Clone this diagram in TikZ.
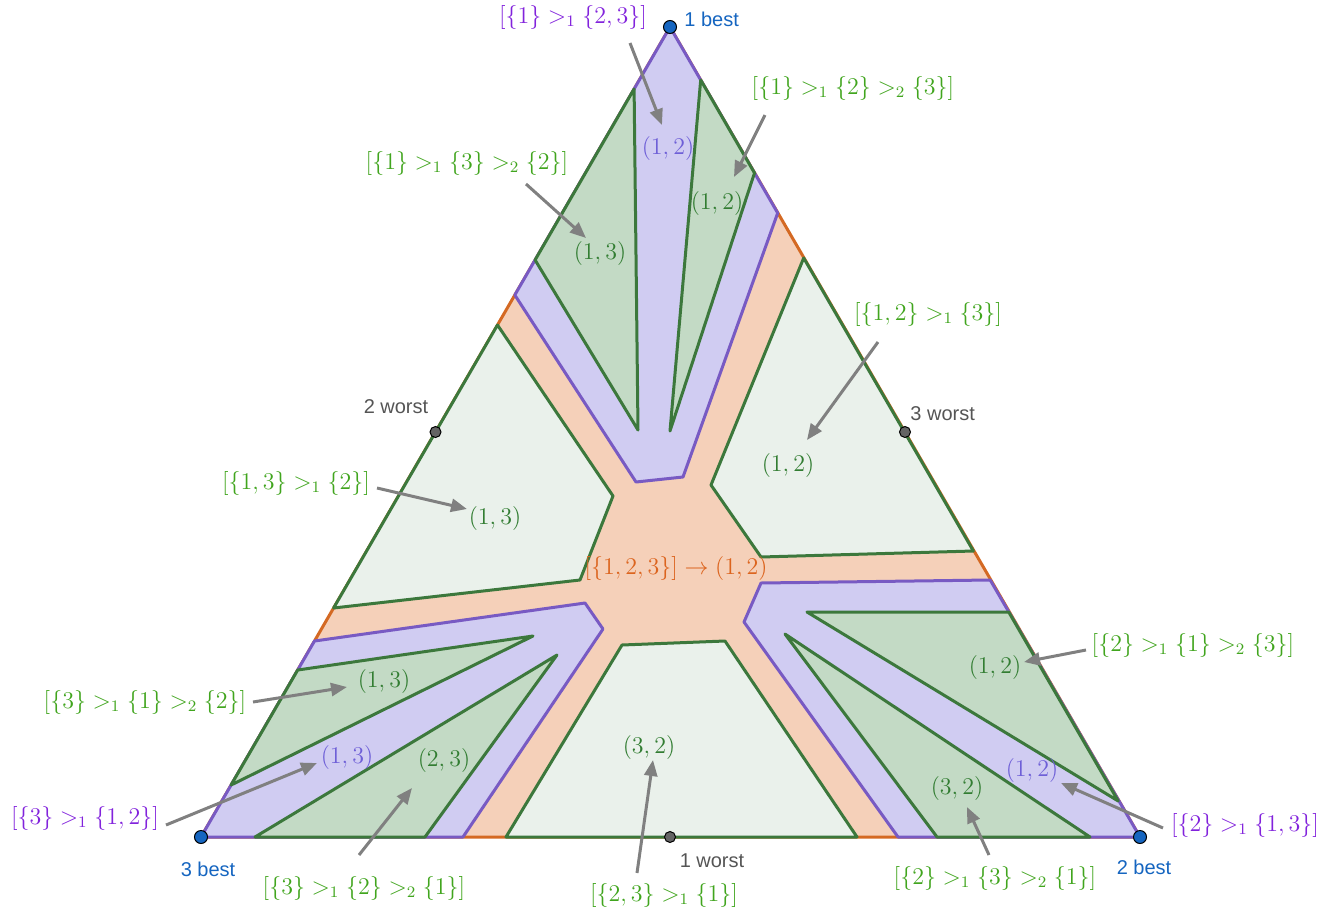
\documentclass[tikz,border=0pt]{standalone}
\usepackage{fontspec}
\newfontfamily\lsans{Liberation Sans}
\usetikzlibrary{arrows.meta,calc}
\definecolor{ofill}{RGB}{245,208,185}
\definecolor{oline}{RGB}{212,105,35}
\definecolor{pfill}{RGB}{208,204,242}
\definecolor{pline}{RGB}{120,90,195}
\definecolor{dgfill}{RGB}{195,218,197}
\definecolor{lgfill}{RGB}{234,241,235}
\definecolor{gline}{RGB}{60,120,60}
\definecolor{glab}{RGB}{65,165,30}
\definecolor{grlab}{RGB}{50,125,50}
\definecolor{plab}{RGB}{130,35,220}
\definecolor{prlab}{RGB}{110,95,215}
\definecolor{olab}{RGB}{220,100,30}
\definecolor{bestblue}{RGB}{21,101,192}
\definecolor{worstgray}{RGB}{85,85,85}
\definecolor{dotgray}{RGB}{100,100,100}
\definecolor{arrgray}{RGB}{128,128,128}
\begin{document}
\begin{tikzpicture}[x=0.5pt,y=-0.5pt,
  region/.style={line width=1.5pt, line join=round},
  oregion/.style={region, fill=ofill, draw=oline},
  pregion/.style={region, fill=pfill, draw=pline},
  lgregion/.style={region, fill=lgfill, draw=gline},
  dgregion/.style={region, fill=dgfill, draw=gline},
  lab/.style={font=\fontsize{12}{14}\selectfont, inner sep=0pt},
  sanslab/.style={font=\lsans\fontsize{10}{12}\selectfont, inner sep=0pt},
  arr/.style={draw=arrgray, line width=1.5pt, -{Triangle[length=8pt,width=6.5pt]}},
  bdot/.style={circle, fill=bestblue, draw=black, line width=0.5pt, minimum size=6.5pt, inner sep=0pt},
  wdot/.style={circle, fill=dotgray, draw=black, line width=0.5pt, minimum size=5.5pt, inner sep=0pt}]
\useasboundingbox (0,0) rectangle (1335,911);
\coordinate (T) at (670,27);
\coordinate (L) at (201,837);
\coordinate (R) at (1140,837);
% orange base
\draw[oregion] (T) -- (L) -- (R) -- cycle;
% purple regions
\draw[pregion] (T) -- (777.7,213) -- (683,477) -- (636,482) -- (514.8,295) -- cycle;
\draw[pregion] (L) -- (314.5,641) -- (585,603) -- (603,629) -- (463,837) -- cycle;
\draw[pregion] (R) -- (898,837) -- (744,622) -- (761,583) -- (990.2,580) -- cycle;
% light green regions
\draw[lgregion] (497.5,325) -- (613,496) -- (580,580) -- (333.6,608) -- cycle;
\draw[lgregion] (803.7,258) -- (711,485) -- (761,557) -- (973.4,551) -- cycle;
\draw[lgregion] (506,837) -- (622,645) -- (725,641) -- (857,837) -- cycle;
% dark green regions
\draw[dgregion] (634.1,89) -- (638,430) -- (535.1,260) -- cycle;
\draw[dgregion] (700.7,80) -- (670,431) -- (754.5,173) -- cycle;
\draw[dgregion] (297.7,670) -- (533,636) -- (231.1,785) -- cycle;
\draw[dgregion] (255,837) -- (557,655) -- (425,837) -- cycle;
\draw[dgregion] (937,837) -- (785,634) -- (1090,837) -- cycle;
\draw[dgregion] (1008.7,612) -- (807,612) -- (1118.2,801) -- cycle;
% vertex and midpoint dots
\node[bdot] (v1) at (T) {};
\node[bdot] (v3) at (L) {};
\node[bdot] (v2) at (R) {};
\node[wdot] (m2) at (435.5,432) {};
\node[wdot] (m3) at (905,432) {};
\node[wdot] (m1) at (670,837) {};
\node[sanslab, text=bestblue, anchor=west] (t1b) at (684,19) {1 best};
\node[sanslab, text=bestblue] (t3b) at (208,869) {3 best};
\node[sanslab, text=bestblue] (t2b) at (1144,867) {2 best};
\node[sanslab, text=worstgray] (t2w) at (396,407) {2 worst};
\node[sanslab, text=worstgray, anchor=west] (t3w) at (910,414) {3 worst};
\node[sanslab, text=worstgray] (t1w) at (712,861) {1 worst};
% region values
\node[lab, text=prlab] (r1) at (668,148) {$(1,2)$};
\node[lab, text=grlab] (r2) at (717,203) {$(1,2)$};
\node[lab, text=grlab] (r3) at (600,253) {$(1,3)$};
\node[lab, text=grlab] (r4) at (788,465) {$(1,2)$};
\node[lab, text=grlab] (r5) at (495,518) {$(1,3)$};
\node[lab, text=olab] (r6) at (676,568) {$[\{1,2,3\}]\to(1,2)$};
\node[lab, text=grlab] (r7) at (384,681) {$(1,3)$};
\node[lab, text=grlab] (r8) at (995,667) {$(1,2)$};
\node[lab, text=prlab] (r9) at (347,757) {$(1,3)$};
\node[lab, text=grlab] (r10) at (444,760) {$(2,3)$};
\node[lab, text=grlab] (r11) at (649,747) {$(3,2)$};
\node[lab, text=grlab] (r12) at (957,788) {$(3,2)$};
\node[lab, text=prlab] (r13) at (1032,770) {$(1,2)$};
% descriptions
\node[lab, text=plab] (d1) at (573,17) {$[\{1\} >_1 \{2,3\}]$};
\node[lab, text=glab] (d2) at (853,88) {$[\{1\} >_1 \{2\} >_2 \{3\}]$};
\node[lab, text=glab] (d3) at (467,163) {$[\{1\} >_1 \{3\} >_2 \{2\}]$};
\node[lab, text=glab] (d4) at (928,314) {$[\{1,2\} >_1 \{3\}]$};
\node[lab, text=glab] (d5) at (296,483) {$[\{1,3\} >_1 \{2\}]$};
\node[lab, text=glab] (d6) at (145,702) {$[\{3\} >_1 \{1\} >_2 \{2\}]$};
\node[lab, text=glab] (d7) at (1193,645) {$[\{2\} >_1 \{1\} >_2 \{3\}]$};
\node[lab, text=plab] (d8) at (85,818) {$[\{3\} >_1 \{1,2\}]$};
\node[lab, text=plab] (d9) at (1245,825) {$[\{2\} >_1 \{1,3\}]$};
\node[lab, text=glab] (d10) at (364,888) {$[\{3\} >_1 \{2\} >_2 \{1\}]$};
\node[lab, text=glab] (d11) at (664,895) {$[\{2,3\} >_1 \{1\}]$};
\node[lab, text=glab] (d12) at (995,878) {$[\{2\} >_1 \{3\} >_2 \{1\}]$};
% arrows
\coordinate (a1s) at (630,43);   \coordinate (a1e) at (662,125);
\coordinate (a2s) at (765,115);  \coordinate (a2e) at (734,177);
\coordinate (a3s) at (526,184);  \coordinate (a3e) at (586,238);
\coordinate (a4s) at (878,342);  \coordinate (a4e) at (807,440);
\coordinate (a5s) at (377,488);  \coordinate (a5e) at (467,509);
\coordinate (a6s) at (253,702);  \coordinate (a6e) at (347,687);
\coordinate (a7s) at (166,825);  \coordinate (a7e) at (317,763);
\coordinate (a8s) at (359,855);  \coordinate (a8e) at (412,788);
\coordinate (a9s) at (637,873);  \coordinate (a9e) at (653,760);
\coordinate (a10s) at (989,855); \coordinate (a10e) at (967,807);
\coordinate (a11s) at (1163,828);\coordinate (a11e) at (1061,783);
\coordinate (a12s) at (1086,650);\coordinate (a12e) at (1024,662);
\foreach \i in {1,...,12} {\draw[arr] (a\i s) -- (a\i e);}
\end{tikzpicture}
\end{document}
